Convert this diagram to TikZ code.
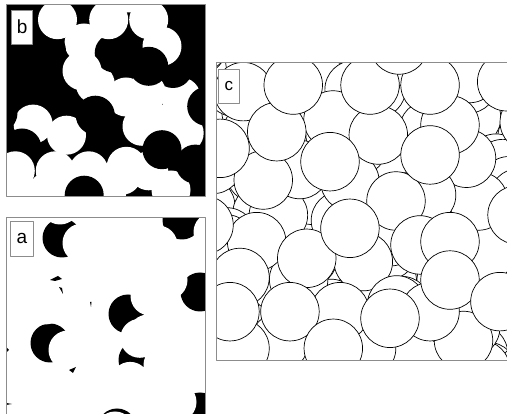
\documentclass[tikz,border=0pt]{standalone}
\usepackage{fontspec}
\setsansfont{Liberation Sans}
\usetikzlibrary{positioning}

\definecolor{framegray}{gray}{0.55}
\newcommand\diskR{19.5}
% disks of the packing, x/y/shade in panel b units (drawn in this order)
\newcommand\disklist{%
  89.3/79.1/white, 27.1/119.1/white, 98.2/132.4/black, 120.4/161.3/white,
  42.2/186.2/white, 100.4/190.2/white, 16/190.2/white, 178.2/128/white,
  78/38/white, 175/92/white, 165/185/white,
  167/63.5/black, 169/7/black, 16/143/black, 140.4/88/white, 120/92/white,
  156/41.3/white, 136/121.3/white, 156/119.1/white, 60.5/130.2/white,
  142.7/165.8/white, 82.7/165.8/white, 116/170.2/white, 49.3/165.8/white,
  9.3/165.8/white, 108.2/48/black, 76/65.8/white, 102.7/14.7/white,
  31.5/78/black, 89.3/110.2/black, 142.7/61.3/black, 142.7/14.7/white,
  122/-12/white, 156/144.7/black, 78.2/190.2/black, 189.3/159.1/black,
  193.8/12.5/black, 18.2/19.1/black, 40.5/45.8/black, 51.5/14.7/white,
  2.7/56.9/black, -8/108/black, 200.7/101.3/black}

\begin{document}
\begin{tikzpicture}[x=1pt, y=-1pt, line join=round,
    frame/.style={draw=framegray, line width=1pt},
    tag/.style={draw=framegray, fill=white, line width=0.8pt,
      font=\sffamily\fontsize{19}{19}\selectfont,
      minimum width=21pt, minimum height=34pt, inner sep=0pt},
    ink/.style={fill=black},
    paper/.style={fill=white},
    rim/.style={fill=white, draw=black, line width=0.7pt}]
  \useasboundingbox (0,0) rectangle (507,414);

  % --- panel b: disks shaded black / white ---------------------------
  \begin{scope}
    \clip (6,5) rectangle (205,197);
    \fill[ink] (6,5) rectangle (205,197);
    \begin{scope}[shift={(6,5)}]
      \foreach \dx/\dy/\dc in \disklist
        \fill[\dc] (\dx,\dy) circle (\diskR);
    \end{scope}
  \end{scope}
  \draw[frame] (6,5) rectangle (205,197);
  \node[tag] (lblb) at (22.2,27) {b};

  % --- panel a: uncovered slivers only -------------------------------
  \begin{scope}
    \clip (6,218) rectangle (205,414);
    \fill[ink] (62,238) circle (\diskR);
    \fill[paper] (60,205) circle (\diskR) (82,243) circle (\diskR);
    \fill[ink] (182,220) circle (\diskR);
    \fill[paper] (158,245) circle (\diskR) (213,232) circle (\diskR);
    \fill[ink] (200,292) circle (\diskR);
    \fill[paper] (168,280) circle (\diskR);
    \fill[ink] (128,314) circle (\diskR);
    \fill[paper] (150,296) circle (\diskR) (148,334) circle (\diskR);
    \fill[ink] (50,343) circle (\diskR);
    \fill[paper] (68,350) circle (\diskR) (45,305) circle (\diskR);
    \fill[ink] (138,360) circle (\diskR);
    \fill[paper] (139.8,338.3) circle (\diskR) (163,365) circle (\diskR)
      (130.2,381.4) circle (\diskR);
    \fill[ink] (200,412) circle (\diskR);
    \fill[paper] (177,402) circle (\diskR);
    \fill[ink] (117,428) circle (\diskR);
    \fill[paper] (115,431) circle (\diskR);
    % small shards
    \fill[ink] (50,280) -- (58,276) -- (62,279) -- (55,281) -- cycle;
    \fill[ink] (59,287) -- (62,288) -- (63,294) -- cycle;
    \fill[ink] (90,302) -- (91.5,302) -- (91,307) -- cycle;
    \fill[ink] (6,347) -- (9,350) -- (6,353) -- cycle;
    \fill[ink] (69,370) -- (76,367) -- (73,373) -- cycle;
    \fill[ink] (6,403) -- (12,404) -- (6,405) -- cycle;
  \end{scope}
  \draw[frame] (6,420) -- (6,218) -- (205,218) -- (205,420);
  \node[tag, minimum width=22.6pt, minimum height=35.7pt] (lbla) at (22,238.8) {a};

  % --- panel c: all disks outlined, enlarged -------------------------
  \begin{scope}
    \clip (216,63) rectangle (507,361);
    \begin{scope}[shift={(216,63)}, scale=1.5]
      \pgfmathsetseed{11}
      \foreach \k in {1,...,140}{
        \pgfmathsetmacro\rx{rnd*230-15}
        \pgfmathsetmacro\ry{rnd*230-15}
        \draw[rim] (\rx,\ry) circle (\diskR);
      }
      \foreach \dx/\dy/\dc in \disklist
        \draw[rim] (\dx,\dy) circle (\diskR);
    \end{scope}
  \end{scope}
  \draw[frame] (515,63) -- (216,63) -- (216,361) -- (515,361);
  \node[tag, font=\sffamily\fontsize{17}{17}\selectfont] (lblc) at (228.8,86.5) {c};
\end{tikzpicture}
\end{document}
